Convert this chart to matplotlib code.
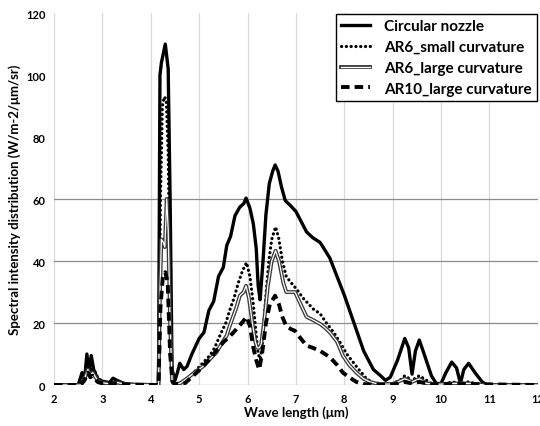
import numpy as np
import matplotlib
matplotlib.use('agg')
import matplotlib.pyplot as plt
import matplotlib.patheffects as pe

plt.rcParams['font.family'] = ['Lato', 'DejaVu Sans']
plt.rcParams['font.weight'] = 'bold'

# Circular nozzle
circ_x = [2.0,2.5,2.58,2.63,2.68,2.72,2.77,2.82,2.9,3.0,3.15,3.22,3.3,3.45,3.7,4.16,4.19,4.22,4.3,4.36,4.4,4.44,4.5,4.55,4.6,4.68,4.75,4.85,5.0,5.1,5.2,5.3,5.4,5.5,5.57,5.65,5.74,5.84,5.92,5.97,6.05,6.12,6.18,6.22,6.26,6.32,6.38,6.45,6.52,6.57,6.63,6.7,6.78,6.88,7.0,7.1,7.22,7.35,7.5,7.6,7.7,7.85,8.0,8.2,8.4,8.6,8.75,8.85,8.95,9.1,9.25,9.33,9.4,9.47,9.55,9.65,9.8,9.9,10.0,10.1,10.22,10.32,10.4,10.47,10.57,10.7,10.85,10.95,12.0]
circ_y = [0,0,4,1.5,10,4,9.5,5,2,1.2,0.8,2.2,1.5,0.5,0,0,100,104,110,102,60,5,1.5,4,7,5,6,10,15,17,24,27,35,38,45,48,54.6,57.4,58.5,60.3,57,52,44,32,27.5,40,55,65,69,71,69,64,59.5,58,56,53,49.4,47.5,46,43.5,41,35,29,20,11,5,3,1.5,2.5,8,15,12,3.5,11,14.5,10,3,0.5,0.5,4,7.4,5.5,0.5,5,7,4,1,0,0]

# AR6_small curvature
s6_x = [2.0,2.55,2.63,2.7,2.75,2.8,2.9,3.0,3.2,3.3,3.5,4.16,4.2,4.24,4.28,4.32,4.36,4.4,4.44,4.5,4.6,4.67,4.8,4.95,5.1,5.22,5.32,5.43,5.55,5.64,5.72,5.81,5.9,5.98,6.05,6.12,6.18,6.22,6.26,6.3,6.36,6.44,6.5,6.58,6.65,6.72,6.8,6.9,7.01,7.15,7.36,7.5,7.63,7.78,7.91,8.05,8.18,8.3,8.46,8.6,8.8,9.0,9.15,9.25,9.35,9.4,9.45,9.55,9.65,9.8,10.0,10.1,10.25,10.4,10.55,10.7,10.9,12.0]
s6_y = [0,0,3,7,4,6,2.5,1,0.5,1.2,0.3,0,60,90,93,92,75,30,3,0.5,0.5,1,2.5,5,7.5,9.5,12,16,20,24.5,28,33,37,39.5,35,26,16,10,8.4,12,25,40,47,51,47,40,35,33,31,28,24.5,23,20,17,13.8,10,7.4,5,2,0.8,0.3,0.5,1.5,3,2,1,2,3,2,0.5,0.2,0.5,1,0.3,1,0.5,0,0]

# AR6_large curvature
l6_x = [2.0,2.55,2.63,2.7,2.75,2.8,2.9,3.0,3.2,3.3,3.5,4.16,4.19,4.22,4.26,4.29,4.33,4.36,4.4,4.44,4.5,4.6,4.74,4.9,5.08,5.2,5.36,5.45,5.57,5.63,5.7,5.77,5.84,5.92,5.97,6.03,6.1,6.16,6.2,6.24,6.28,6.34,6.42,6.5,6.58,6.65,6.74,6.8,6.9,6.98,7.1,7.22,7.35,7.5,7.6,7.7,7.85,7.97,8.1,8.25,8.4,8.53,8.7,9.0,9.25,9.4,9.55,9.7,9.9,10.25,10.6,10.9,12.0]
l6_y = [0,0,2,5,3,4,1.5,0.7,0.3,0.8,0.2,0,30,47,46,44.5,60,50,20,1.5,0.3,0.5,2,4,6,8,10.6,13,16,19,22,25,28.8,30,32,28,20,14,12,12,13,20,32,40,43.3,40,33,30,30,30,26,22,21,19.7,18.5,17,14,9.5,6.5,4,2,1,0.3,0.3,2,1,2,0.5,0.2,0.5,0.5,0,0]

# AR10_large curvature
l10_x = [2.0,2.55,2.63,2.7,2.75,2.8,2.9,3.0,3.3,3.5,4.16,4.2,4.25,4.3,4.35,4.4,4.45,4.5,4.7,4.88,5.05,5.22,5.35,5.5,5.65,5.77,5.88,5.98,6.05,6.12,6.18,6.24,6.3,6.38,6.46,6.57,6.65,6.72,6.8,6.9,6.98,7.1,7.22,7.35,7.5,7.6,7.7,7.85,7.97,8.1,8.25,8.4,8.6,9.0,9.25,9.4,9.55,9.8,10.25,10.6,12.0]
l10_y = [0,0,1.5,4,2.5,3,1,0.5,0.5,0.1,0,25,35,36.4,33,10,1,0.2,0.5,3,5.5,8.4,11,13.8,16,18,20,22,19,12,8,5,10,20,26,28.8,26,22,19,18,17.5,15,12.7,12,11,10,9,6.5,4,2.5,1,0.3,0.1,0.1,1,0.5,1,0.2,0.3,0.3,0]

labels = ['Circular nozzle', 'AR6_small curvature', 'AR6_large curvature', 'AR10_large curvature']

fig = plt.figure(figsize=(5.4, 4.27), dpi=100)
ax = fig.add_axes([0.1, 0.096, 0.896, 0.871])

ax.plot(circ_x, circ_y, color='black', lw=2.4, label=labels[0], solid_joinstyle='round')
ax.plot(s6_x, s6_y, color='black', lw=2.3, linestyle=(0, (0.05, 1.45)),
        dash_capstyle='round', label=labels[1])
ax.plot(l6_x, l6_y, color='white', lw=0.9, label=labels[2],
        path_effects=[pe.Stroke(linewidth=2.8, foreground='#3a3a3a'), pe.Normal()])
ax.plot(l10_x, l10_y, color='black', lw=2.8, linestyle=(0, (2.2, 1.3)), label=labels[3])

ax.set_xlim(2, 12)
ax.set_ylim(0, 120)
ax.set_xticks(range(2, 13))
ax.set_yticks(range(0, 121, 20))
for xv in range(2, 13):
    ax.axvline(xv, color='#d9d9d9', lw=0.9, zorder=0)
for yv in [0, 20, 40, 60]:
    ax.axhline(yv, color='#8c8c8c', lw=0.9, zorder=0)
for s in ax.spines.values():
    s.set_visible(False)
ax.tick_params(length=0, labelsize=8, pad=6)
for lab in ax.get_xticklabels() + ax.get_yticklabels():
    lab.set_fontweight('bold')

ax.set_xlabel('Wave length (\u03bcm)', fontsize=9.5, fontweight='bold', labelpad=1)
ax.set_ylabel('Spectral intensity distribution (W/m-2/\u03bcm/sr)', fontsize=9.5,
              fontweight='bold', labelpad=4)

leg = ax.legend(loc='upper right', bbox_to_anchor=(1.0, 1.0), frameon=True, fancybox=False,
                edgecolor='black', framealpha=1, fontsize=11, borderpad=0.35,
                handlelength=1.9, handletextpad=0.9, labelspacing=0.45, borderaxespad=0.05)
leg.get_frame().set_linewidth(1.0)
for t in leg.get_texts():
    t.set_fontweight('bold')

fig.savefig('out.png', dpi=100)
